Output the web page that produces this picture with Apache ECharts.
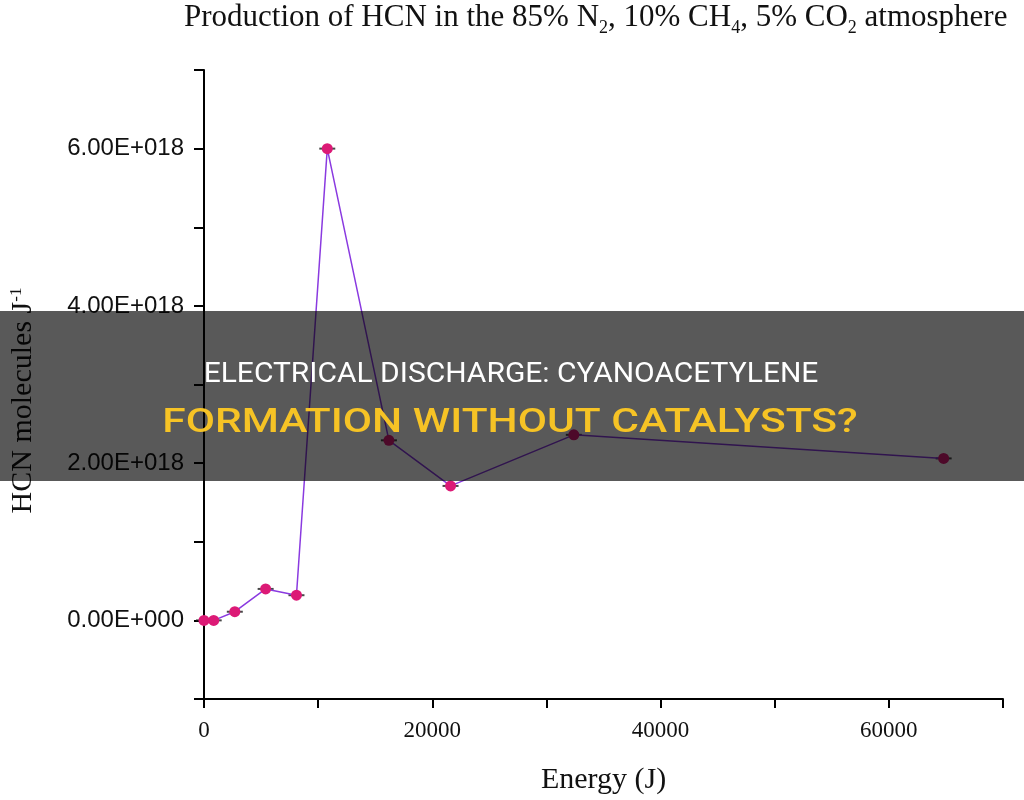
<!DOCTYPE html>
<html>
<head>
<meta charset="utf-8">
<title>HCN production</title>
<script src="https://cdn.jsdelivr.net/npm/echarts@6/dist/echarts.min.js"></script>
<style>
  html, body { margin: 0; padding: 0; background: #fff; }
  #chart { width: 1024px; height: 800px; }
</style>
</head>
<body>
<div id="chart"></div>
<script>
// energy (J) vs HCN molecules per joule
const energy = [0, 850, 2700, 5400, 8100, 10800, 16200, 21600, 32400, 64800]
const hcnPerJoule = [0, 0, 0.11e18, 0.40e18, 0.32e18, 6.0e18, 2.29e18, 1.71e18, 2.36e18, 2.06e18]

const yLabels = ['0.00E+000', '2.00E+018', '4.00E+018', '6.00E+018']
const xLabels = ['0', '20000', '40000', '60000']

const bannerLine1 = 'ELECTRICAL DISCHARGE: CYANOACETYLENE'
const bannerLine2 = 'FORMATION WITHOUT CATALYSTS?'

const chart = echarts.init(document.getElementById('chart'))

const points = energy.map((e, i) => [e, hcnPerJoule[i]])
const serif = '"Liberation Serif", "Times New Roman", serif'
const sans = '"Liberation Sans", Arial, sans-serif'

const option = {
  animation: false,
  backgroundColor: '#fff',
  title: {
    text: 'Production of HCN in the 85% N{sub|2}, 10% CH{sub|4}, 5% CO{sub|2} atmosphere',
    left: 179,
    top: -6,
    textStyle: {
      fontFamily: serif,
      fontSize: 31,
      fontWeight: 'normal',
      color: '#111',
      lineHeight: 38,
      rich: {
        sub: { fontFamily: serif, fontSize: 18, lineHeight: 18, verticalAlign: 'bottom', color: '#111' }
      }
    }
  },
  grid: { left: 203, right: 21, top: 70, bottom: 100 },
  xAxis: {
    type: 'value',
    min: 0,
    max: 70000,
    interval: 10000,
    name: 'Energy (J)',
    nameLocation: 'middle',
    nameGap: 66,
    nameTextStyle: { fontFamily: serif, fontSize: 30, color: '#111' },
    axisLine: { onZero: false, lineStyle: { color: '#000', width: 2 } },
    axisTick: { show: true, length: 9, lineStyle: { color: '#000', width: 2 } },
    splitLine: { show: false },
    axisLabel: {
      fontFamily: serif,
      fontSize: 23,
      color: '#111',
      margin: 20,
      formatter: v => (xLabels.indexOf(String(v)) >= 0 ? String(v) : '')
    }
  },
  yAxis: {
    type: 'value',
    min: -1e18,
    max: 7e18,
    interval: 1e18,
    name: 'HCN molecules J{sup|-1}',
    nameLocation: 'middle',
    nameGap: 166,
    nameRotate: 90,
    nameTextStyle: {
      fontFamily: serif,
      fontSize: 30,
      color: '#111',
      padding: [0, 32, 0, 0],
      rich: {
        sup: { fontFamily: serif, fontSize: 17, verticalAlign: 'top', color: '#111' }
      }
    },
    axisLine: { show: true, lineStyle: { color: '#000', width: 2 } },
    axisTick: { show: true, length: 10, lineStyle: { color: '#000', width: 2 } },
    splitLine: { show: false },
    axisLabel: {
      fontFamily: sans,
      fontSize: 24,
      color: '#111',
      margin: 20,
      formatter: v => {
        const idx = Math.round(v / 2e18)
        if (v >= 0 && Math.abs(v - idx * 2e18) < 1e15 && idx < yLabels.length) return yLabels[idx]
        return ''
      }
    }
  },
  series: [
    {
      type: 'scatter',
      data: points,
      symbol: 'rect',
      symbolSize: [16, 2],
      itemStyle: { color: '#1a1a1a' },
      z: 1,
      silent: true
    },
    {
      type: 'line',
      data: points,
      symbol: 'circle',
      symbolSize: 11,
      showSymbol: true,
      lineStyle: { color: '#8a3ae0', width: 1.5 },
      itemStyle: { color: '#dc1a76', borderWidth: 0 },
      z: 3
    }
  ],
  graphic: [
    {
      type: 'rect',
      shape: { x: 0, y: 311, width: 1024, height: 170 },
      style: { fill: 'rgba(0,0,0,0.65)' },
      z: 100
    },
    {
      type: 'text',
      x: 511,
      y: 375,
      scaleX: 1.11,
      style: {
        text: bannerLine1,
        fill: '#fff',
        font: '27px Roboto, "Liberation Sans", sans-serif',
        textAlign: 'center',
        textVerticalAlign: 'middle'
      },
      z: 101
    },
    {
      type: 'text',
      x: 510,
      y: 423,
      scaleX: 1.25,
      style: {
        text: bannerLine2,
        fill: '#f6c325',
        font: '500 34px Roboto, "Liberation Sans", sans-serif',
        textAlign: 'center',
        textVerticalAlign: 'middle'
      },
      z: 101
    }
  ]
}

chart.setOption(option)
</script>
</body>
</html>
